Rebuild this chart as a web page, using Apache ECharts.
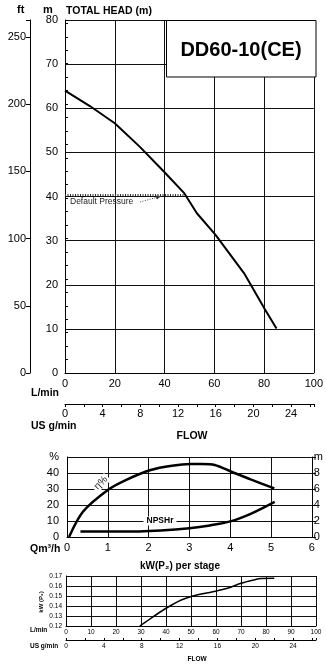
<!DOCTYPE html>
<html><head><meta charset="utf-8">
<script src="https://cdn.jsdelivr.net/npm/echarts@6/dist/echarts.min.js"></script>
<style>html,body{margin:0;padding:0;background:#fff}#c{width:326px;height:669px}</style>
</head><body><div id="c"></div>
<script>
// ---- data ----
const headFlow = [0, 10, 20, 30, 40, 48, 53, 60.5, 72, 80.5, 85];
const headM    = [64, 60.5, 56.6, 51.3, 45.5, 40.7, 36.2, 31.3, 22.6, 14.3, 10.1];
const effQ     = [0.05, 0.39, 1.0, 1.44, 2.05, 2.57, 3.04, 3.3, 3.62, 4.03, 4.5, 5.08];
const effPct   = [0, 15.8, 29.4, 35.6, 41.9, 44.6, 45.6, 45.6, 45.0, 40.8, 36.0, 30.4];
const npshQ    = [0.33, 1.0, 1.77, 2.3, 3.0, 3.5, 4.0, 4.5, 5.09];
const npshM    = [0.7, 0.7, 0.7, 0.8, 1.1, 1.45, 1.95, 2.9, 4.4];
const powFlow  = [29.5, 33, 38.9, 43, 46.1, 50.7, 58.7, 65, 70, 75, 78, 83.3];
const powKW    = [0.12, 0.126, 0.136, 0.142, 0.146, 0.150, 0.1543, 0.158, 0.1627, 0.166, 0.1675, 0.1677];
const defaultPressure = 40.5;
const defaultPressureFlow = 48;
const gpmLabels = [0, 4, 8, 12, 16, 20, 24];
const ftLabels = [0, 50, 100, 150, 200, 250];
const LPM_PER_GPM = 3.7854;
const M_PER_FT = 0.3048;

const F = '"Liberation Sans", Arial, sans-serif';
const blk = '#000';
const zip = (a, b) => a.map((v, i) => [v, b[i]]);

const chart = echarts.init(document.getElementById('c'), null, {renderer: 'canvas'});
const lab = (size, extra) => Object.assign({color: blk, fontFamily: F, fontSize: size}, extra || {});
const split = {show: true, lineStyle: {color: '#111', width: 1}};
const line = {show: true, onZero: false, lineStyle: {color: blk, width: 1}};

const opt = {
  animation: false,
  backgroundColor: '#fff',
  grid: [
    {left: 65, top: 20, width: 251, height: 353, show: false},
    {left: 67, top: 457, width: 248, height: 80, show: false},
    {left: 66, top: 576, width: 250, height: 50, show: false}
  ],
  xAxis: [
    {gridIndex: 0, type: 'value', min: 0, max: 100, interval: 20, position: 'bottom',
     axisLine: line, axisTick: {show: false}, splitLine: split, axisLabel: lab(11, {margin: 5})},
    {gridIndex: 0, type: 'value', min: 0, max: 100 / LPM_PER_GPM, interval: 2, position: 'bottom', offset: 31,
     axisLine: line, axisTick: {show: true, length: 3, lineStyle: {color: blk}}, splitLine: {show: false},
     axisLabel: lab(11, {margin: 4, formatter: v => gpmLabels.includes(v) ? String(v) : ''})},
    {gridIndex: 1, type: 'value', min: 0, max: 6, interval: 1, position: 'bottom',
     axisLine: line, axisTick: {show: false}, splitLine: split, axisLabel: lab(11, {margin: 5})},
    {gridIndex: 2, type: 'value', min: 0, max: 100, interval: 10, position: 'bottom',
     axisLine: line, axisTick: {show: false}, splitLine: split, axisLabel: lab(6.5, {margin: 3})},
    {gridIndex: 2, type: 'value', min: 0, max: 100 / LPM_PER_GPM, interval: 2, position: 'bottom', offset: 14,
     axisLine: line, axisTick: {show: true, length: 2, inside: true, lineStyle: {color: blk}}, splitLine: {show: false},
     axisLabel: lab(6.5, {margin: 3, formatter: v => gpmLabels.includes(v) ? String(v) : ''})}
  ],
  yAxis: [
    {gridIndex: 0, type: 'value', min: 0, max: 80, interval: 10, position: 'left',
     axisLine: line, axisTick: {show: false}, splitLine: split, axisLabel: lab(11, {margin: 7})},
    {gridIndex: 0, type: 'value', min: 0, max: 80 / M_PER_FT, interval: 50, position: 'left', offset: 35,
     axisLine: line, axisTick: {show: true, length: 4, lineStyle: {color: blk}}, splitLine: {show: false},
     axisLabel: lab(11, {margin: 4, formatter: v => ftLabels.includes(v) ? String(v) : ''})},
    {gridIndex: 0, type: 'value', min: 0, max: 80 / M_PER_FT, interval: 10, position: 'left', offset: 35,
     axisLine: {show: false}, axisTick: {show: true, inside: true, length: 3, lineStyle: {color: blk}},
     splitLine: {show: false}, axisLabel: {show: false}},
    {gridIndex: 1, type: 'value', min: 0, max: 50, interval: 10, position: 'left',
     axisLine: line, axisTick: {show: false}, splitLine: split,
     axisLabel: lab(11, {margin: 8, formatter: v => v === 50 ? '%' : String(v)})},
    {gridIndex: 1, type: 'value', min: 0, max: 10, interval: 2, position: 'right',
     axisLine: line, axisTick: {show: true, length: 4, lineStyle: {color: blk}}, splitLine: {show: false},
     axisLabel: lab(11, {margin: 2, formatter: v => v === 10 ? 'm' : String(v)})},
    {gridIndex: 2, type: 'value', min: 0.12, max: 0.17, interval: 0.01, position: 'left',
     axisLine: line, axisTick: {show: false}, splitLine: split,
     axisLabel: lab(6.5, {margin: 4, formatter: v => v.toFixed(2)})}
  ],
  series: [
    {type: 'line', xAxisIndex: 0, yAxisIndex: 0, data: zip(headFlow, headM), symbol: 'none',
     lineStyle: {color: blk, width: 2}, z: 5,
     markLine: {silent: true, symbol: 'none', label: {show: false},
       lineStyle: {color: '#333', type: [1, 1.5], width: 2},
       data: [[{coord: [0, defaultPressure]}, {coord: [defaultPressureFlow, defaultPressure]}]]}},
    {type: 'line', xAxisIndex: 2, yAxisIndex: 3, data: zip(effQ, effPct), symbol: 'none', smooth: 0.3,
     lineStyle: {color: blk, width: 2.5}, z: 5},
    {type: 'line', xAxisIndex: 2, yAxisIndex: 4, data: zip(npshQ, npshM), symbol: 'none', smooth: 0.3,
     lineStyle: {color: blk, width: 2.5}, z: 5},
    {type: 'line', xAxisIndex: 3, yAxisIndex: 5, data: zip(powFlow, powKW), symbol: 'none', smooth: 0.3,
     lineStyle: {color: blk, width: 1.5}, z: 5}
  ],
  graphic: [
    {type: 'text', x: 17, y: 4, z: 100, style: {text: 'ft', font: 'bold 11px ' + F, fill: blk}},
    {type: 'text', x: 43, y: 4, z: 100, style: {text: 'm', font: 'bold 11px ' + F, fill: blk}},
    {type: 'text', x: 66, y: 6, z: 100, style: {text: 'TOTAL HEAD (m)', font: 'bold 10.5px ' + F, fill: blk}},
    {type: 'rect', z: 100, shape: {x: 166.5, y: 20.5, width: 149.5, height: 56.5},
     style: {fill: '#fff', stroke: blk, lineWidth: 1}},
    {type: 'text', x: 241, y: 50, z: 101, style: {text: 'DD60-10(CE)', font: 'bold 20px ' + F, fill: blk,
     align: 'center', verticalAlign: 'middle'}},
    {type: 'text', x: 70, y: 202, z: 100, style: {text: 'Default Pressure', font: '8.5px ' + F, fill: '#222',
     verticalAlign: 'middle'}},
    {type: 'polyline', z: 100, shape: {points: [[140, 202], [158, 197]]},
     style: {stroke: '#444', lineWidth: 1, lineDash: [1, 1.5], fill: null}},
    {type: 'polygon', z: 100, shape: {points: [[161, 196], [155, 195.5], [157, 199.5]]},
     style: {fill: '#333'}},
    {type: 'text', x: 31, y: 388, z: 100, style: {text: 'L/min', font: 'bold 10.5px ' + F, fill: blk}},
    {type: 'text', x: 31, y: 421, z: 100, style: {text: 'US g/min', font: 'bold 10.5px ' + F, fill: blk}},
    {type: 'text', x: 192, y: 431, z: 100, style: {text: 'FLOW', font: 'bold 10.5px ' + F, fill: blk, align: 'center'}},
    {type: 'text', x: 101, y: 483, z: 100, rotation: Math.PI / 4,
     style: {text: 'η%', font: '10px ' + F, fill: '#222', align: 'center', verticalAlign: 'middle',
       backgroundColor: '#fff', padding: [0, 2]}},
    {type: 'text', x: 160, y: 521, z: 100,
     style: {text: 'NPSHr', font: 'bold 8.5px ' + F, fill: blk, align: 'center', verticalAlign: 'middle',
       backgroundColor: '#fff', padding: [0, 3]}},
    {type: 'text', x: 30, y: 544, z: 100, style: {text: 'Qm³/h', font: 'bold 10.5px ' + F, fill: blk}},
    {type: 'text', x: 180, y: 561, z: 100, style: {text: 'kW(P₂) per stage', font: 'bold 10px ' + F, fill: blk, align: 'center'}},
    {type: 'text', x: 41, y: 602, z: 100, rotation: Math.PI / 2,
     style: {text: 'kW (P₂)', font: 'bold 6px ' + F, fill: blk, align: 'center', verticalAlign: 'middle'}},
    {type: 'text', x: 30, y: 627, z: 100, style: {text: 'L/min', font: 'bold 6.5px ' + F, fill: blk}},
    {type: 'text', x: 30, y: 643, z: 100, style: {text: 'US g/min', font: 'bold 6.5px ' + F, fill: blk}},
    {type: 'text', x: 197, y: 656, z: 100, style: {text: 'FLOW', font: 'bold 6.5px ' + F, fill: blk, align: 'center'}}
  ]
};
chart.setOption(opt);
</script></body></html>
